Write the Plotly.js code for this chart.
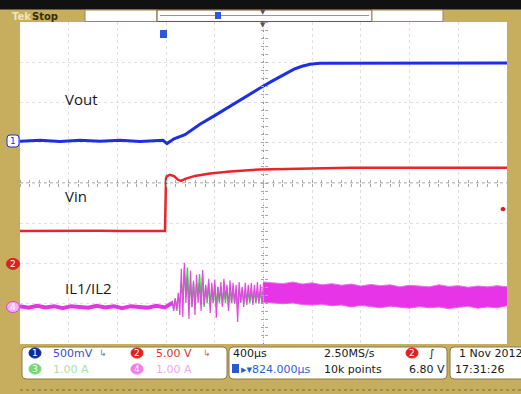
<!DOCTYPE html>
<html><head><meta charset="utf-8">
<script src="https://cdn.plot.ly/plotly-3.0.1.min.js"></script>
<style>html,body{margin:0;padding:0;background:#c6ae5e;overflow:hidden}#chart{width:521px;height:394px}</style>
</head><body><div id="chart"></div>
<script>
// ---------------- data (time in µs from left edge of screen) ----------------
const channelScale = [0.5, 5, 1, 1];          // units per division (CH1 V, CH2 V, CH3 A, CH4 A)
const channelPosDiv = [1.04, -2.01, -3.08, -3.08]; // ground marker position in divisions
const readoutLabels = ['500mV', '5.00 V', '1.00 A', '1.00 A'];
const traceLabels = ['Vout', 'Vin', 'IL1/IL2'];
const timeDivLabel = '400µs';
const horizPosLabel = '▸▾824.000µs';
const sampleRateLabel = '2.50MS/s';
const recordLabel = '10k points';
const triggerLevelV = 6.80;
const triggerLabel = '6.80 V';
const dateLabel = '1 Nov 2012';
const timeLabel = '17:31:26';

const voutT = [0,164,329,493,657,821,986,1109,1175,1207,1232,1265,1355,1478,1602,1725,1848,1971,2070,2168,2251,2316,2382,2464,2711,2957,3203,3450,3696,4000];
const voutV = [0,0.01,-0.005,0.01,0,0.01,-0.005,0.005,0.01,-0.03,0,0.03,0.08,0.21,0.32,0.435,0.55,0.66,0.745,0.826,0.894,0.93,0.956,0.969,0.97,0.965,0.975,0.97,0.968,0.972];

const vinT = [0,164,329,493,657,821,986,1109,1191,1199,1207,1232,1265,1298,1322,1363,1437,1561,1725,1971,2300,2711,3203,3696,4000];
const vinV = [4.1,4.12,4.08,4.1,4.12,4.1,4.09,4.11,4.1,10.6,10.9,11.06,10.9,10.45,10.3,10.6,10.93,11.24,11.49,11.74,11.86,11.95,11.93,11.95,11.93];

const ilFlatT = [0,70,140,210,280,350,420,490,560,630,700,770,840,910,980,1050,1120,1190,1250];
const ilFlatA = [0.02,-0.02,0.03,-0.01,0.02,-0.03,0.02,0,-0.02,0.03,-0.01,0.02,-0.03,0.02,0.01,-0.02,0.03,-0.01,0.1];

const ilBurstStartUs = 1250, ilSampleUs = 12.5;
const ilBurstA = [0.15,-0.1,0.22,-0.05,0.35,-0.2,
  0.95,-0.25,1.1,0.1,0.75,-0.3,0.9,
  0.0,0.65,-0.2,0.8,0.1,0.6,-0.1,0.92,
  0.05,0.55,0.2,0.7,-0.15,0.6,0.1,0.68,-0.27,0.5,
  0.15,0.62,0.0,0.7,0.2,0.55,-0.1,0.66,0.1,0.6,
  0.08,0.55,-0.37,0.62,0.12,0.5,0.0,0.6,0.1,0.55,
  0.15,0.6,0.05,0.55,0.12,0.62,0.08,0.56,0.1,0.6];
const il3BurstA = [0.15,-0.05,0.2,-0.1,0.25,0.1,
  0.6,0.2,0.97,0.3,0.98,0.1,0.6,
  0.0,0.6,0.1,0.55,0.3,0.82,0.1,0.8,
  0.0,0.5,0.1,0.6,0.0,0.5,0.1,0.55,0.0,0.5,
  0.1,0.5,0.05,0.45,0.1,0.5,0.0,0.5,0.1,0.45,
  0.1,0.45,0.0,0.45,0.1,0.45,0.1,0.4,0.05,0.4,
  0.1,0.4,0.1,0.4,0.1,0.4,0.1,0.4,0.1,0.4];

const bandT = [2000,2080,2160,2240,2320,2400,2480,2560,2640,2720,2800,2880,2960,3040,3120,3200,3280,3360,3440,3520,3600,3680,3760,3840,3920,4000];
const bandTopA = [0.62,0.6,0.58,0.62,0.57,0.6,0.55,0.58,0.54,0.57,0.52,0.56,0.53,0.55,0.5,0.54,0.52,0.5,0.55,0.51,0.53,0.49,0.52,0.5,0.53,0.5];
const bandBotA = [0.12,0.1,0.08,0.1,0.06,0.05,0.07,0.03,0.05,0.0,0.04,0.01,-0.02,0.02,0.0,-0.03,0.01,-0.02,0.0,-0.04,-0.01,0.02,-0.03,0.0,-0.02,0.03];

// ---------------- helpers ----------------
const toDiv = (v, ch) => v / channelScale[ch] + channelPosDiv[ch];
const conv = (arr, ch) => arr.map(v => toDiv(v, ch));
const burstT = ilBurstA.map((_, i) => ilBurstStartUs + i * ilSampleUs);

const L = 20, R = 14, T = 22, B = 50, W = 521, H = 394;
const PW = W - L - R, PH = H - T - B;
const X = px => (px - L) / PW;
const Y = py => (H - B - py) / PH;
const divToPx = d => T + PH / 2 - d * PH / 8;

function rrect(x0, y0, x1, y1, r, fill, line) {
  const a = X(x0), b = X(x1), c = Y(y0), d = Y(y1);
  const rx = r / PW, ry = r / PH;
  const p = `M${a+rx},${c} L${b-rx},${c} Q${b},${c} ${b},${c-ry} L${b},${d+ry} Q${b},${d} ${b-rx},${d} L${a+rx},${d} Q${a},${d} ${a},${d+ry} L${a},${c-ry} Q${a},${c} ${a+rx},${c} Z`;
  return {type:'path', xref:'paper', yref:'paper', path:p, fillcolor:fill, line:{color:line, width:1}};
}
function rect(x0, y0, x1, y1, fill, line, w) {
  return {type:'rect', xref:'paper', yref:'paper', x0:X(x0), x1:X(x1), y0:Y(y1), y1:Y(y0),
    fillcolor:fill, line:{color:line || fill, width: w === undefined ? 0 : w}};
}
function circ(cx, cy, r, fill, line) {
  return {type:'circle', xref:'paper', yref:'paper', x0:X(cx-r), x1:X(cx+r), y0:Y(cy+r*0.85), y1:Y(cy-r*0.85),
    fillcolor:fill, line:{color:line || fill, width:1}};
}
function txt(px, py, text, color, size, anchor, family, extra) {
  return Object.assign({xref:'paper', yref:'paper', x:X(px), y:Y(py), text:text, showarrow:false,
    xanchor:anchor || 'left', yanchor:'middle', font:{family:family || 'DejaVu Sans', size:size || 11, color:color}}, extra || {});
}

// ---------------- traces ----------------
const traces = [
  {x:[...ilFlatT, ...burstT, ...bandT], y:conv([...ilFlatA.map(v=>v*0.8), ...il3BurstA, ...bandTopA.map((v,i)=>(v+bandBotA[i])/2)], 2),
   mode:'lines', line:{color:'#3fd03f', width:1.4}, hoverinfo:'skip'},
  {x:ilFlatT, y:conv(ilFlatA, 3), mode:'lines', line:{color:'#e236e2', width:4}, hoverinfo:'skip'},
  {x:burstT, y:conv(ilBurstA, 3), mode:'lines', line:{color:'#e448e4', width:1.2}, hoverinfo:'skip'},
  {x:bandT, y:conv(bandBotA, 3), mode:'lines', line:{color:'#ec5cec', width:1}, hoverinfo:'skip'},
  {x:bandT, y:conv(bandTopA, 3), mode:'lines', fill:'tonexty', fillcolor:'#e634e6', line:{color:'#ef70ef', width:1}, hoverinfo:'skip'},
  {x:vinT, y:conv(vinV, 1), mode:'lines', line:{color:'#e8252a', width:2.5}, hoverinfo:'skip'},
  {x:voutT, y:conv(voutV, 0), mode:'lines', line:{color:'#1d2fe4', width:3}, hoverinfo:'skip'},
  {x:[null], y:[null], xaxis:'x2', yaxis:'y2', hoverinfo:'skip'},
  {x:[null], y:[null], xaxis:'x3', yaxis:'y3', hoverinfo:'skip'}
];

// ---------------- decorations ----------------
const shapes = [
  rect(0, 0, 521, 9.5, '#111111'),
  rect(85, 10, 157, 21.5, '#ffffff', '#9a8850', 1),
  rect(157, 10, 372, 21.5, '#ffffff', '#6a5a30', 1),
  {type:'line', xref:'paper', yref:'paper', x0:X(160), x1:X(369), y0:Y(15.5), y1:Y(15.5), line:{color:'#f07070', width:1}},
  rect(372, 10, 443, 21.5, '#ffffff', '#9a8850', 1),
  rect(215, 12, 221, 19, '#2a5ad0'),
  rect(160, 30, 167, 38, '#2a5ad0'),
  {type:'line', xref:'x', yref:'paper', x0:2000, x1:2000, y0:0, y1:1, layer:'below', line:{color:'#8a8a8a', width:1, dash:'dot'}},
  {type:'line', xref:'paper', yref:'y', x0:0, x1:1, y0:0, y1:0, layer:'below', line:{color:'#8a8a8a', width:1, dash:'dot'}},
  rrect(22, 347, 227, 379, 4, '#ffffff', '#8a7a4a'),
  rrect(229, 347, 447, 379, 4, '#ffffff', '#8a7a4a'),
  rrect(450, 347, 530, 379, 4, '#ffffff', '#8a7a4a'),
  {type:'line', xref:'paper', yref:'paper', x0:0, x1:1.03, y0:Y(390), y1:Y(390), line:{color:'#7a6a3a', width:1, dash:'dot'}},
  // channel badges
  circ(35, 353, 6, '#0c2a9c'),
  circ(137, 353, 6, '#e02020'),
  circ(35, 369, 6, '#74d874'),
  circ(137, 369, 6, '#f07af0'),
  circ(412, 353, 6, '#e02020'),
  rect(232, 364, 239, 373, '#2a5ad0'),
  // ground markers on left border
  rrect(7, 135, 19, 147, 3, '#ffffff', '#1d2fe4'),
  circ(13, divToPx(channelPosDiv[1]), 6.5, '#e02020'),
  circ(13, divToPx(channelPosDiv[3]), 6.5, '#f4b0f4', '#e040e0'),
  // trigger level marker
  circ(503, divToPx(toDiv(triggerLevelV, 1)), 2, '#d02020')
];

const annotations = [
  txt(10, 16, 'Tek', '#efe4bc', 10, 'left', 'DejaVu Sans', {font:{family:'DejaVu Sans', size:10, color:'#efe4bc', weight:'bold'}}),
  txt(30, 16, 'Stop', '#3a2c08', 10, 'left', 'DejaVu Sans', {font:{family:'DejaVu Sans', size:10, color:'#3a2c08', weight:'bold'}}),
  txt(263, 12, '▼', '#555555', 7, 'center'),
  txt(263, 25, '▼', '#555555', 7, 'center'),
  txt(63, 99, traceLabels[0], '#1a1a1a', 15, 'left', 'Open Sans'),
  txt(63, 196, traceLabels[1], '#1a1a1a', 15, 'left', 'Open Sans'),
  txt(63, 288, traceLabels[2], '#1a1a1a', 15, 'left', 'Open Sans'),
  txt(13, divToPx(channelPosDiv[0]), '1', '#1d2fe4', 9, 'center', 'DejaVu Sans'),
  txt(13, divToPx(channelPosDiv[1]), '2', '#ffffff', 9, 'center', 'DejaVu Sans'),
  txt(13, divToPx(channelPosDiv[3]), '4', '#ffffff', 9, 'center', 'DejaVu Sans'),
  txt(35, 353, '1', '#ffffff', 9, 'center'),
  txt(137, 353, '2', '#ffffff', 9, 'center'),
  txt(35, 369, '3', '#ffffff', 9, 'center'),
  txt(137, 369, '4', '#ffffff', 9, 'center'),
  txt(412, 353, '2', '#ffffff', 9, 'center'),
  txt(51, 353, readoutLabels[0], '#3a4ed0', 11),
  txt(154, 353, readoutLabels[1], '#e03030', 11),
  txt(51, 369, readoutLabels[2], '#a6e2a6', 11),
  txt(154, 369, readoutLabels[3], '#f2a6f2', 11),
  txt(103, 353, '↳', '#6a78b8', 9, 'center'),
  txt(207, 353, '↳', '#d06060', 9, 'center'),
  txt(231, 353, timeDivLabel, '#1a1a1a', 11),
  txt(239, 369, horizPosLabel, '#3060d0', 11),
  txt(322, 353, sampleRateLabel, '#1a1a1a', 11),
  txt(322, 369, recordLabel, '#1a1a1a', 11),
  txt(432, 353, '∫', '#1a1a1a', 11, 'center'),
  txt(447, 369, triggerLabel, '#1a1a1a', 11, 'right'),
  txt(457, 353, dateLabel, '#1a1a1a', 11),
  txt(453, 369, timeLabel, '#1a1a1a', 11)
];

const gridAxis = {showgrid:true, gridcolor:'#e0e0e0', griddash:'dot', gridwidth:1, zeroline:false,
  showticklabels:false, ticks:'', showline:false, fixedrange:true};
const tickAxis = {showgrid:false, zeroline:false, showticklabels:false, showline:false,
  ticks:'outside', ticklen:3, tickcolor:'#a8a8a8', tickwidth:1, anchor:'free', position:0.5, fixedrange:true};

const layout = {
  width:W, height:H, margin:{l:L, r:R, t:T, b:B}, showlegend:false,
  paper_bgcolor:'#c6ae5e', plot_bgcolor:'#ffffff',
  xaxis:Object.assign({range:[0,4000], dtick:400, tick0:0}, gridAxis),
  yaxis:Object.assign({range:[-4,4], dtick:1, tick0:0}, gridAxis),
  xaxis2:Object.assign({overlaying:'x', side:'bottom', range:[0,4000], dtick:80, tick0:0}, tickAxis),
  xaxis3:Object.assign({overlaying:'x', side:'top', range:[0,4000], dtick:80, tick0:0}, tickAxis),
  yaxis2:Object.assign({overlaying:'y', side:'left', range:[-4,4], dtick:0.2, tick0:0}, tickAxis),
  yaxis3:Object.assign({overlaying:'y', side:'right', range:[-4,4], dtick:0.2, tick0:0}, tickAxis),
  shapes:shapes, annotations:annotations
};

Plotly.newPlot('chart', traces, layout, {displayModeBar:false, staticPlot:true});
</script></body></html>
